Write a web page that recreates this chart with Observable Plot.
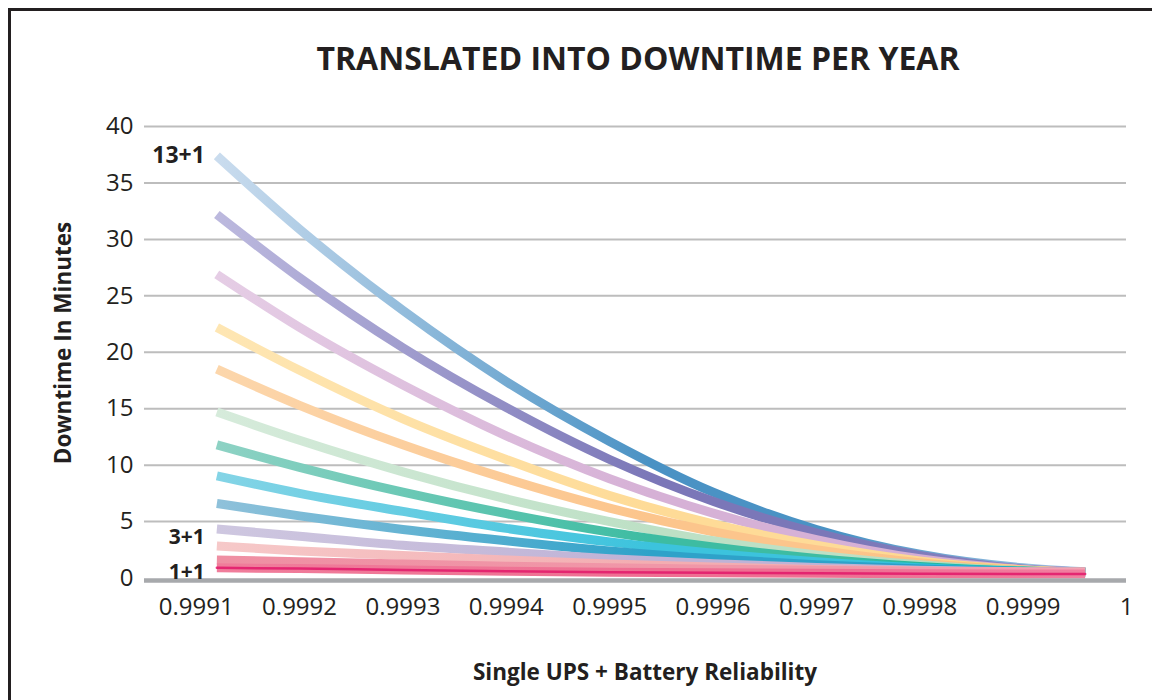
<!DOCTYPE html>
<html>
<head>
<meta charset="utf-8">
<script src="https://cdn.jsdelivr.net/npm/d3@7"></script>
<script src="https://cdn.jsdelivr.net/npm/@observablehq/plot@0.6"></script>
<style>
  body { margin: 0; background: #fff; }
  #wrap { position: relative; width: 1152px; height: 700px; overflow: hidden; font-family: "Open Sans", sans-serif; color: #231f20; }
  #frame { position: absolute; left: 8px; top: 8px; width: 1200px; height: 800px; border-left: 3px solid #231f20; border-top: 3px solid #231f20; }
  #title { position: absolute; left: 0; width: 1276px; top: 42px; text-align: center; font-weight: 700; font-size: 32px; line-height: 32px; white-space: nowrap; }
  #ylab { position: absolute; left: 62px; top: 343px; transform: translate(-50%, -50%) rotate(-90deg); font-weight: 700; font-size: 22.5px; white-space: nowrap; }
  #xlab { position: absolute; left: 0; width: 1290px; top: 659px; text-align: center; font-weight: 700; font-size: 22.5px; line-height: 26px; white-space: nowrap; }
  #chart { position: absolute; left: 0; top: 0; }
</style>
</head>
<body>
<div id="wrap">
  <div id="frame"></div>
  <div id="chart"></div>
  <div id="title">TRANSLATED INTO DOWNTIME PER YEAR</div>
  <div id="ylab">Downtime In Minutes</div>
  <div id="xlab">Single UPS + Battery Reliability</div>
</div>
<script>
// ---- data ----
const seriesNames = ["1+1","2+1","3+1","4+1","5+1","6+1","7+1","8+1","9+1","10+1","11+1","12+1","13+1"];
const reliability = [0.99912, 0.9992, 0.9993, 0.9994, 0.9995, 0.9996, 0.9997, 0.9998, 0.9999, 0.99996];

const n1  = [0.9, 0.84, 0.7, 0.6, 0.52, 0.46, 0.41, 0.38, 0.36, 0.35];
const n2  = [1.6, 1.45, 1.25, 1.05, 0.9, 0.78, 0.68, 0.6, 0.56, 0.55];
const n3  = [2.84, 2.4, 2.0, 1.6, 1.24, 0.97, 0.76, 0.61, 0.52, 0.5];
const n4  = [4.35, 3.7, 2.9, 2.3, 1.7, 1.27, 0.92, 0.68, 0.54, 0.5];
const n5  = [6.6, 5.5, 4.3, 3.3, 2.4, 1.7, 1.17, 0.79, 0.56, 0.5];
const n6  = [9.05, 7.5, 5.9, 4.4, 3.2, 2.2, 1.43, 0.9, 0.59, 0.51];
const n7  = [11.8, 9.8, 7.6, 5.7, 4.06, 2.75, 1.73, 1.03, 0.61, 0.51];
const n8  = [14.7, 12.2, 9.4, 7.0, 5.0, 3.3, 2.05, 1.17, 0.64, 0.51];
const n9  = [18.5, 15.3, 11.8, 8.8, 6.2, 4.1, 2.5, 1.35, 0.68, 0.52];
const n10 = [22.2, 18.4, 14.1, 10.5, 7.3, 4.8, 2.9, 1.5, 0.72, 0.52];
const n11 = [26.9, 22.2, 17.1, 12.6, 8.8, 5.75, 3.4, 1.7, 0.76, 0.53];
const n12 = [32.2, 26.6, 20.4, 15.1, 10.5, 6.8, 4.0, 2.0, 0.8, 0.53];
const n13 = [37.4, 30.9, 23.7, 17.4, 12.1, 7.6, 4.3, 2.1, 0.9, 0.55];
const seriesValues = [n1, n2, n3, n4, n5, n6, n7, n8, n9, n10, n11, n12, n13];

const xTicks = [0.9991, 0.9992, 0.9993, 0.9994, 0.9995, 0.9996, 0.9997, 0.9998, 0.9999, 1];
const xTickLabels = ["0.9991","0.9992","0.9993","0.9994","0.9995","0.9996","0.9997","0.9998","0.9999","1"];
const yTicks = [0, 5, 10, 15, 20, 25, 30, 35, 40];
const labelled = ["1+1", "3+1", "13+1"];

// ---- styles ----
const startColors = ["#f07d9b","#ef8fa3","#f6c9c9","#cec7e0","#8fc1da","#84d4e6","#8ed2c4","#d6ebdb","#fcd6ab","#fee6b3","#e5cde5","#bcb9de","#cadcee"];
const midColors   = ["#ee6f92","#f097a8","#f3adb1","#bfb2d6","#2ea2c9","#3cc3dd","#3dbca2","#bde0c5","#fcc58c","#fedb97","#d6b1d6","#7b77b8","#4a92c4"];
const endColors   = ["#f07fa0","#f3a3b2","#f2a6ab","#b8acd2","#1a9dc8","#15b9d8","#00ae8f","#a6d4b2","#fbbb78","#fdd383","#cea4cf","#8a87c2","#a9c8e6"];
const labelShift  = {"1+1": 4, "3+1": -9, "13+1": 0};
const labelSize   = {"1+1": 21, "3+1": 21, "13+1": 23};

const lineMarks = [];
for (let i = seriesValues.length - 1; i >= 0; i--) {
  const data = reliability.map((r, j) => ({r, v: seriesValues[i][j]}));
  lineMarks.push(Plot.line(data, {x: "r", y: "v", stroke: `url(#grad${i})`, strokeWidth: 9, curve: "monotone-x", strokeLinecap: "butt"}));
  if (i === 0) {
    lineMarks.push(Plot.line(data, {x: "r", y: "v", stroke: "#e2186a", strokeWidth: 2.5, strokeOpacity: 0.85, curve: "monotone-x"}));
  }
}

const labelData = seriesNames.map((s, i) => ({s, r: reliability[0], v: seriesValues[i][0]})).filter(d => labelled.includes(d.s));

const svg = Plot.plot({
  width: 1152,
  height: 700,
  marginLeft: 144,
  marginRight: 26,
  marginTop: 126,
  marginBottom: 122.5,
  x: {domain: [0.99905, 1]},
  y: {domain: [0, 40]},
  style: {fontFamily: "Open Sans, sans-serif", fontSize: "24px", color: "#231f20", background: "transparent", overflow: "visible"},
  marks: [
    Plot.gridY(yTicks.filter(d => d > 0), {stroke: "#bdbdbd", strokeOpacity: 1, strokeWidth: 2}),
    Plot.axisY(yTicks, {tickSize: 0, tickPadding: 11, label: null, fontSize: 24}),
    Plot.axisX(xTicks, {tickSize: 0, tickPadding: 20, label: null, fontSize: 24, tickFormat: d => xTickLabels[xTicks.indexOf(d)]}),
    ...lineMarks,
    Plot.ruleY([0], {stroke: "#a7a9ac", strokeWidth: 4.5, dy: 2.5}),
    ...labelData.map(d => Plot.text([d], {x: "r", y: "v", text: "s", textAnchor: "end", dx: -12, dy: labelShift[d.s], fontWeight: 700, fontSize: labelSize[d.s], fill: "#231f20"}))
  ]
});

const defs = d3.select(svg).insert("defs", ":first-child");
seriesNames.forEach((s, i) => {
  const g = defs.append("linearGradient").attr("id", `grad${i}`).attr("x1", 0).attr("x2", 1).attr("y1", 0).attr("y2", 0);
  g.append("stop").attr("offset", 0).attr("stop-color", startColors[i]);
  g.append("stop").attr("offset", 0.5).attr("stop-color", midColors[i]);
  g.append("stop").attr("offset", 0.72).attr("stop-color", midColors[i]);
  g.append("stop").attr("offset", 1).attr("stop-color", endColors[i]);
});

document.getElementById("chart").appendChild(svg);
</script>
</body>
</html>
